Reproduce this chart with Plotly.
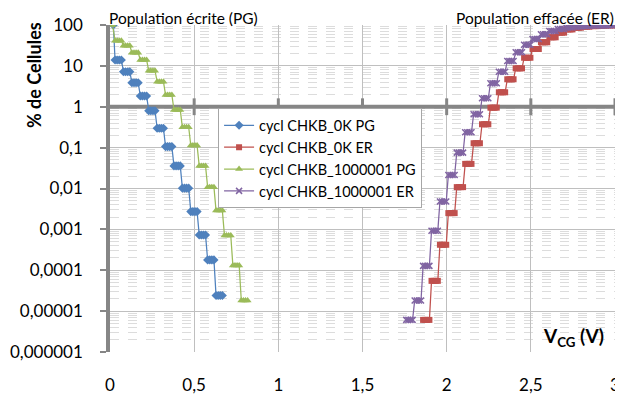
import plotly.graph_objects as go

# ---------------- data ----------------
# Each series is a staircase: plateaus every 0.05 V, 4 samples per plateau (0.0125 V apart)
SAMPLES_PER_STEP = 4
SAMPLE_DX = 0.0125
STEP_DX = 0.05

blue_pg_first = (0.02, 100.0)
blue_pg_start = 0.03
blue_pg_levels = [13.97, 7.2, 3.88, 1.84, 0.80, 0.298, 0.106, 0.0357, 0.0102,
                  0.00272, 0.00073, 0.000179, 0.0000241]

green_pg_first = (0.015, 100.0)
green_pg_start = 0.03
green_pg_levels = [41.3, 31.2, 21.0, 14.0, 7.6, 4.1, 1.95, 0.835, 0.315, 0.112,
                   0.0357, 0.0108, 0.00288, 0.000705, 0.00013, 0.0000182]

red_er_start = 1.86
red_er_levels = [0.0000061, 0.000055, 0.00042, 0.0025, 0.0108, 0.040, 0.128, 0.373,
                 0.95, 2.26, 4.7, 8.7, 15.8, 25.9, 37.8, 50.0, 65.0, 78.0, 86.0,
                 91.0, 94.0, 96.5, 98.0]

purple_er_start = 1.76
purple_er_levels = [0.0000061, 0.0000182, 0.000128, 0.00093, 0.0048, 0.0215, 0.0755,
                    0.238, 0.656, 1.61, 3.76, 7.2, 13.2, 21.5, 33.0, 45.5, 59.3, 71.3,
                    80.0, 87.0, 92.0, 95.0, 97.0, 98.0, 99.0]

series_names = ["cycl CHKB_0K PG", "cycl CHKB_0K ER",
                "cycl CHKB_1000001 PG", "cycl CHKB_1000001 ER"]

x_tickvals = [0, 0.5, 1, 1.5, 2, 2.5, 3]
x_ticktext = ["0", "0,5", "1", "1,5", "2", "2,5", "3"]
y_tickvals = [1e-6, 1e-5, 1e-4, 1e-3, 1e-2, 1e-1, 1, 10, 100]
y_ticktext = ["0,000001", "0,00001", "0,0001", "0,001", "0,01", "0,1", "1", "10", "100"]


def staircase(start, levels, first=None):
    xs, ys = [], []
    if first is not None:
        xs.append(first[0]); ys.append(first[1])
    for i, lv in enumerate(levels):
        for k in range(SAMPLES_PER_STEP):
            xs.append(round(start + i * STEP_DX + k * SAMPLE_DX, 5))
            ys.append(lv)
    return xs, ys


bx, by = staircase(blue_pg_start, blue_pg_levels, blue_pg_first)
rx, ry = staircase(red_er_start, red_er_levels)
gx, gy = staircase(green_pg_start, green_pg_levels, green_pg_first)
px, py = staircase(purple_er_start, purple_er_levels)

BLUE = "#4F81BD"
RED = "#C0504D"
GREEN = "#9BBB59"
PURPLE = "#8064A2"
AXIS = "#868686"
FONT = "Lato"

fig = go.Figure()

# x-axis line crossing at y = 1 (Excel style)
fig.add_trace(go.Scatter(x=[0, 3], y=[1, 1], mode="lines",
                         line=dict(color=AXIS, width=4), showlegend=False,
                         hoverinfo="skip", cliponaxis=False))
fig.add_trace(go.Scatter(x=x_tickvals[1:], y=[1] * (len(x_tickvals) - 1), mode="markers",
                         marker=dict(symbol="line-ns", size=12,
                                     line=dict(color=AXIS, width=3)),
                         showlegend=False, hoverinfo="skip", cliponaxis=False))

fig.add_trace(go.Scatter(x=bx, y=by, mode="lines+markers", name=series_names[0],
                         line=dict(color=BLUE, width=1.25),
                         marker=dict(symbol="diamond", size=7, color=BLUE)))
fig.add_trace(go.Scatter(x=rx, y=ry, mode="lines+markers", name=series_names[1],
                         line=dict(color=RED, width=1.25),
                         marker=dict(symbol="square", size=6, color=RED)))
fig.add_trace(go.Scatter(x=gx, y=gy, mode="lines+markers", name=series_names[2],
                         line=dict(color=GREEN, width=1.25),
                         marker=dict(symbol="triangle-up", size=7, color=GREEN)))
fig.add_trace(go.Scatter(x=px, y=py, mode="lines+markers", name=series_names[3],
                         line=dict(color=PURPLE, width=1.25),
                         marker=dict(symbol="x-thin", size=6, color=PURPLE,
                                     line=dict(color=PURPLE, width=1.5))))

# the page body has an 8 px margin, so the figure is 8 px smaller than the window
fig.update_layout(
    width=615, height=390,
    margin=dict(l=102, r=8, t=17, b=46, autoexpand=False),
    paper_bgcolor="white", plot_bgcolor="white",
    font=dict(family=FONT, color="black", size=14),
    showlegend=True,
    legend=dict(x=0.214, y=0.745, xanchor="left", yanchor="top",
                bgcolor="white", bordercolor="#a6a6a6", borderwidth=1,
                font=dict(family=FONT, size=14.5, color="black"),
                tracegroupgap=0),
    xaxis=dict(range=[0, 3], tickmode="array", tickvals=x_tickvals, ticktext=x_ticktext,
               showgrid=True, gridcolor="#bfbfbf", gridwidth=1, zeroline=False,
               ticks="", showline=False, ticklabelstandoff=21, automargin=False,
               tickfont=dict(family=FONT, size=17, color="black")),
    yaxis=dict(type="log", range=[-6, 2], tickmode="array", tickvals=y_tickvals,
               ticktext=y_ticktext, showgrid=True, gridcolor="#bfbfbf", gridwidth=1,
               zeroline=False, ticks="outside", ticklen=6, tickwidth=2, tickcolor=AXIS,
               showline=True, linecolor=AXIS, linewidth=3.5, ticklabelstandoff=14,
               automargin=False,
               tickfont=dict(family=FONT, size=17, color="black")),
    annotations=[
        dict(text="Population écrite (PG)", xref="paper", yref="paper", x=-0.004, y=1.051,
             xanchor="left", yanchor="top", showarrow=False, borderpad=0,
             font=dict(family=FONT, size=15.5, color="black")),
        dict(text="Population effacée (ER)", xref="paper", yref="paper", x=1, y=1.051,
             xanchor="right", yanchor="top", showarrow=False, borderpad=0,
             font=dict(family=FONT, size=15.5, color="black")),
        dict(text="<b>% de Cellules</b>", xref="paper", yref="paper", x=-0.1505, y=0.847,
             xanchor="center", yanchor="middle", textangle=-90, showarrow=False,
             font=dict(family=FONT, size=18, color="black")),
        dict(text="<b>V<sub>CG</sub> (V)</b>", xref="paper", yref="paper", x=0.917, y=0.046,
             xanchor="center", yanchor="middle", showarrow=False,
             font=dict(family=FONT, size=19, color="black")),
    ],
)
fig.update_yaxes(minor=dict(showgrid=True, gridcolor="#dcdcdc", griddash="dash",
                            gridwidth=1, dtick="D1"))

fig.write_html("out.html")
